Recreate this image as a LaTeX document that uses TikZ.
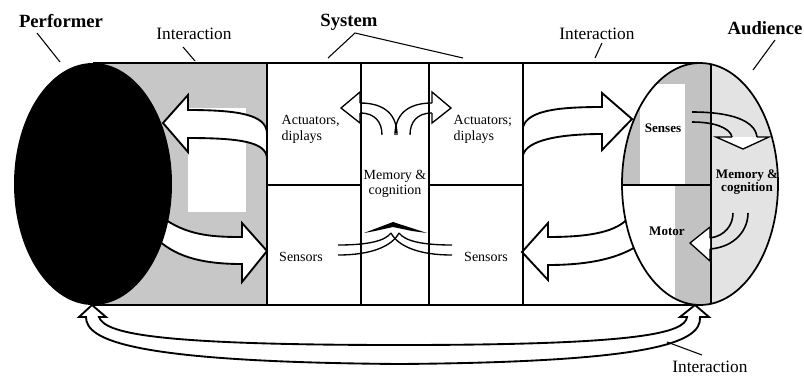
\documentclass[tikz,border=0pt]{standalone}
\usepackage{fontspec}
\setmainfont{Liberation Serif}
\usetikzlibrary{shapes}

\begin{document}
\begin{tikzpicture}[x=0.75pt, y=-0.75pt, line width=1.1pt,
    bigarrow/.style={draw=black, line width=1.4pt, fill=white},
    smallarrow/.style={draw=black, line width=1pt, fill=white},
    title/.style={font=\fontsize{14}{14}\selectfont\bfseries, inner sep=0pt},
    caption/.style={font=\fontsize{13}{13}\selectfont, inner sep=0pt},
    part/.style={font=\fontsize{10.5}{11.5}\selectfont, inner sep=0pt, align=left},
    sense/.style={font=\fontsize{9.8}{10}\selectfont\bfseries, inner sep=0pt, align=center}]
    \useasboundingbox (0,0) rectangle (804,376);
    % Shaded gap between performer and system
    \fill[black!22] (93,63) rectangle (268,305);
    \fill[white] (188,108) rectangle (246,212);
    % Arrows between system and performer
    \draw[bigarrow] (267,133) .. controls (266,115) and (240,110) .. (188,110) -- (188,95) -- (163,123)
        -- (188,152) -- (188,138) .. controls (240,138) and (266,142) .. (267,158) -- cycle;
    \draw[bigarrow] (166,220) .. controls (190,236) and (215,237) .. (242,237) -- (242,223) -- (267,251)
        -- (242,282) -- (242,264) .. controls (205,264) and (178,258) .. (158,240) -- cycle;
    % Draw the performer
    \fill[black] (93,184) ellipse [x radius=59.25pt, y radius=90.75pt];
    % Arrows between system and audience
    \draw[bigarrow] (523,127) .. controls (528,110) and (560,107) .. (602,107) -- (602,93) -- (632,119)
        -- (602,150) -- (602,134) .. controls (560,134) and (527,140) .. (523,155) -- cycle;
    \draw[bigarrow] (522,252) -- (548,223) -- (548,237) .. controls (590,237) and (618,232) .. (630,216)
        -- (640,244) .. controls (620,258) and (590,265) .. (548,265) -- (548,280) -- cycle;
    % Draw the audience
    \fill[white] (700,184) ellipse [x radius=58.5pt, y radius=90.75pt];
    \begin{scope}
        \clip (700,184) ellipse [x radius=58.5pt, y radius=90.75pt];
        \fill[black!11] (711,63) rectangle (780,305);
        \fill[black!24] (615,63) rectangle (711,185);
        \fill[white] (640,84) rectangle (685,185);
        \fill[black!24] (675,185) rectangle (711,305);
    \end{scope}
    \draw[line width=1.3pt] (700,184) ellipse [x radius=58.5pt, y radius=90.75pt];
    \draw (711,64) -- (711,304);
    \draw (622,185) -- (711,185);
    % Draw the system
    \draw (267,63) rectangle (523,305);
    \draw (361,63) -- (361,305);
    \draw (429,63) -- (429,305);
    \draw (267,185) -- (361,185);
    \draw (429,185) -- (523,185);
    % Top and bottom of the cylinder
    \draw (93,63) -- (700,63);
    \draw (93,305) -- (700,305);
    % Memory to actuators
    \draw[smallarrow] (360,103) -- (360,92) -- (341,108) -- (360,123) -- (360,113);
    \draw[line width=1pt] (360,103) .. controls (385,103) and (397,115) .. (397,135);
    \draw[line width=1pt] (360,113) .. controls (375,113) and (382,122) .. (382,135);
    \draw[smallarrow] (432,103) -- (432,92) -- (451,108) -- (432,123) -- (432,113);
    \draw[line width=1pt] (432,103) .. controls (407,103) and (395,115) .. (395,135);
    \draw[line width=1pt] (432,113) .. controls (417,113) and (410,122) .. (410,135);
    % Sensors to memory
    \fill (364,233) -- (393,222) -- (427,233) -- (412,231) -- (393,227) -- (375,231) -- cycle;
    \draw[line width=1pt] (338,245) .. controls (368,245) and (385,241) .. (391,233);
    \draw[line width=1pt] (338,255) .. controls (372,255) and (392,246) .. (399,233);
    \draw[line width=1pt] (452,245) .. controls (422,245) and (405,241) .. (399,233);
    \draw[line width=1pt] (452,255) .. controls (418,255) and (398,246) .. (391,233);
    % Inside the audience
    \draw[smallarrow] (732,137) -- (716,137) -- (743,149) -- (769,137) -- (757,137);
    \draw[line width=1.2pt] (692,112) .. controls (730,112) and (755,120) .. (757,137);
    \draw[line width=1.2pt] (692,122) .. controls (715,122) and (730,128) .. (732,137);
    \draw[smallarrow] (710,238) -- (710,227) -- (690,243) -- (710,261) -- (710,249);
    \draw[line width=1.2pt] (710,238) .. controls (725,236) and (733,225) .. (733,213);
    \draw[line width=1.2pt] (710,249) .. controls (735,247) and (748,230) .. (748,213);
    % Interaction between performer and audience
    \draw[bigarrow] (86,317) -- (79,317) -- (92,305) -- (106,317) -- (99,317)
        .. controls (105,333) and (150,345) .. (400,345) .. controls (640,345) and (685,333) .. (687,317)
        -- (680,317) -- (695,305) -- (709,317) -- (700,317)
        .. controls (702,343) and (650,362) .. (400,364) .. controls (130,362) and (86,340) .. (86,317) -- cycle;
    % labels
    \node[part, anchor=west] (actL) at (281,129.5) {Actuators,\\diplays};
    \node[part, anchor=west] (actR) at (453,129.5) {Actuators;\\diplays};
    \node[part, align=center] (memS) at (395,184) {Memory \&\\cognition};
    \node[part] (senL) at (301,257) {Sensors};
    \node[part] (senR) at (486,257) {Sensors};
    \node[sense] (senses) at (663,128) {Senses};
    \node[sense] (motor) at (667,231) {Motor};
    \node[sense] (memA) at (747,182) {Memory \&\\cognition};
    \node[title] (perf) at (61,21) {Performer};
    \node[title] (sys) at (349,22) {System};
    \node[title] (aud) at (765,28) {Audience};
    \node[caption] (interL) at (194,34) {Interaction};
    \node[caption] (interR) at (597,34) {Interaction};
    \node[caption] (interB) at (710,367) {Interaction};
    % pointers
    \coordinate (perfA) at (37,33);   \coordinate (perfB) at (60,62);
    \coordinate (interLA) at (183,47); \coordinate (interLB) at (195,61);
    \coordinate (sysA) at (355,33);   \coordinate (sysB) at (328,58); \coordinate (sysC) at (463,58);
    \coordinate (interRA) at (602,43); \coordinate (interRB) at (595,58);
    \coordinate (audA) at (775,40);   \coordinate (audB) at (753,70);
    \coordinate (interBA) at (702,355); \coordinate (interBB) at (667,342);
    \draw[line width=0.8pt] (perfA) -- (perfB);
    \draw[line width=0.8pt] (interLA) -- (interLB);
    \draw[line width=0.8pt] (sysB) -- (sysA) -- (sysC);
    \draw[line width=0.8pt] (interRA) -- (interRB);
    \draw[line width=0.8pt] (audA) -- (audB);
    \draw[line width=0.8pt] (interBA) -- (interBB);
\end{tikzpicture}
\end{document}
